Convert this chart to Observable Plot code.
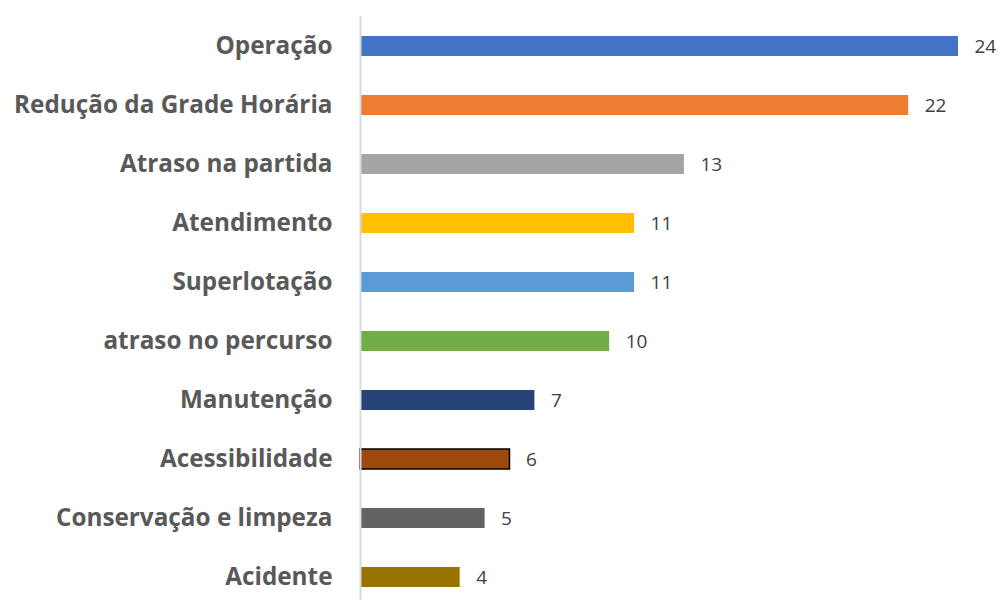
<!DOCTYPE html>
<html>
<head>
<meta charset="utf-8">
<script src="https://cdn.jsdelivr.net/npm/d3@7"></script>
<script src="https://cdn.jsdelivr.net/npm/@observablehq/plot@0.6"></script>
<style>
  html, body { margin: 0; padding: 0; background: #fff; }
  #chart { width: 1000px; height: 600px; }
</style>
</head>
<body>
<div id="chart"></div>
<script>
const categories = ["Operação", "Redução da Grade Horária", "Atraso na partida", "Atendimento", "Superlotação", "atraso no percurso", "Manutenção", "Acessibilidade", "Conservação e limpeza", "Acidente"];
const values = [24, 22, 13, 11, 11, 10, 7, 6, 5, 4];
const colors = ["#4472C4", "#ED7D31", "#A5A5A5", "#FFC000", "#5B9BD5", "#70AD47", "#264478", "#9E480E", "#636363", "#997300"];
const strokes = ["none", "none", "none", "none", "none", "none", "none", "#000000", "none", "none"];

const data = categories.map((c, i) => ({category: c, value: values[i], color: colors[i], stroke: strokes[i]}));

const chart = Plot.plot({
  width: 1000,
  height: 600,
  marginLeft: 360,
  marginRight: 42,
  marginTop: 16,
  marginBottom: 0,
  style: {fontFamily: "'Open Sans', sans-serif", background: "#fff"},
  x: {domain: [0, 24], axis: null},
  y: {domain: categories, range: [16, 608], paddingInner: 0.66, paddingOuter: 0.33, label: null},
  marks: [
    Plot.barX(data, {x: "value", y: "category", fill: d => d.color, stroke: d => d.stroke, strokeWidth: 1.5, inset: 0}),
    Plot.ruleX([0], {stroke: "#d9d9d9", strokeWidth: 2}),
    Plot.axisY({tickSize: 0, tickPadding: 28, fontSize: 24.3, fontWeight: "bold", fill: "#595959", label: null}),
    Plot.text(data, {x: "value", y: "category", text: d => String(d.value), textAnchor: "start", dx: 16, fontSize: 19, fill: "#404040"})
  ]
});
document.getElementById("chart").appendChild(chart);
</script>
</body>
</html>
